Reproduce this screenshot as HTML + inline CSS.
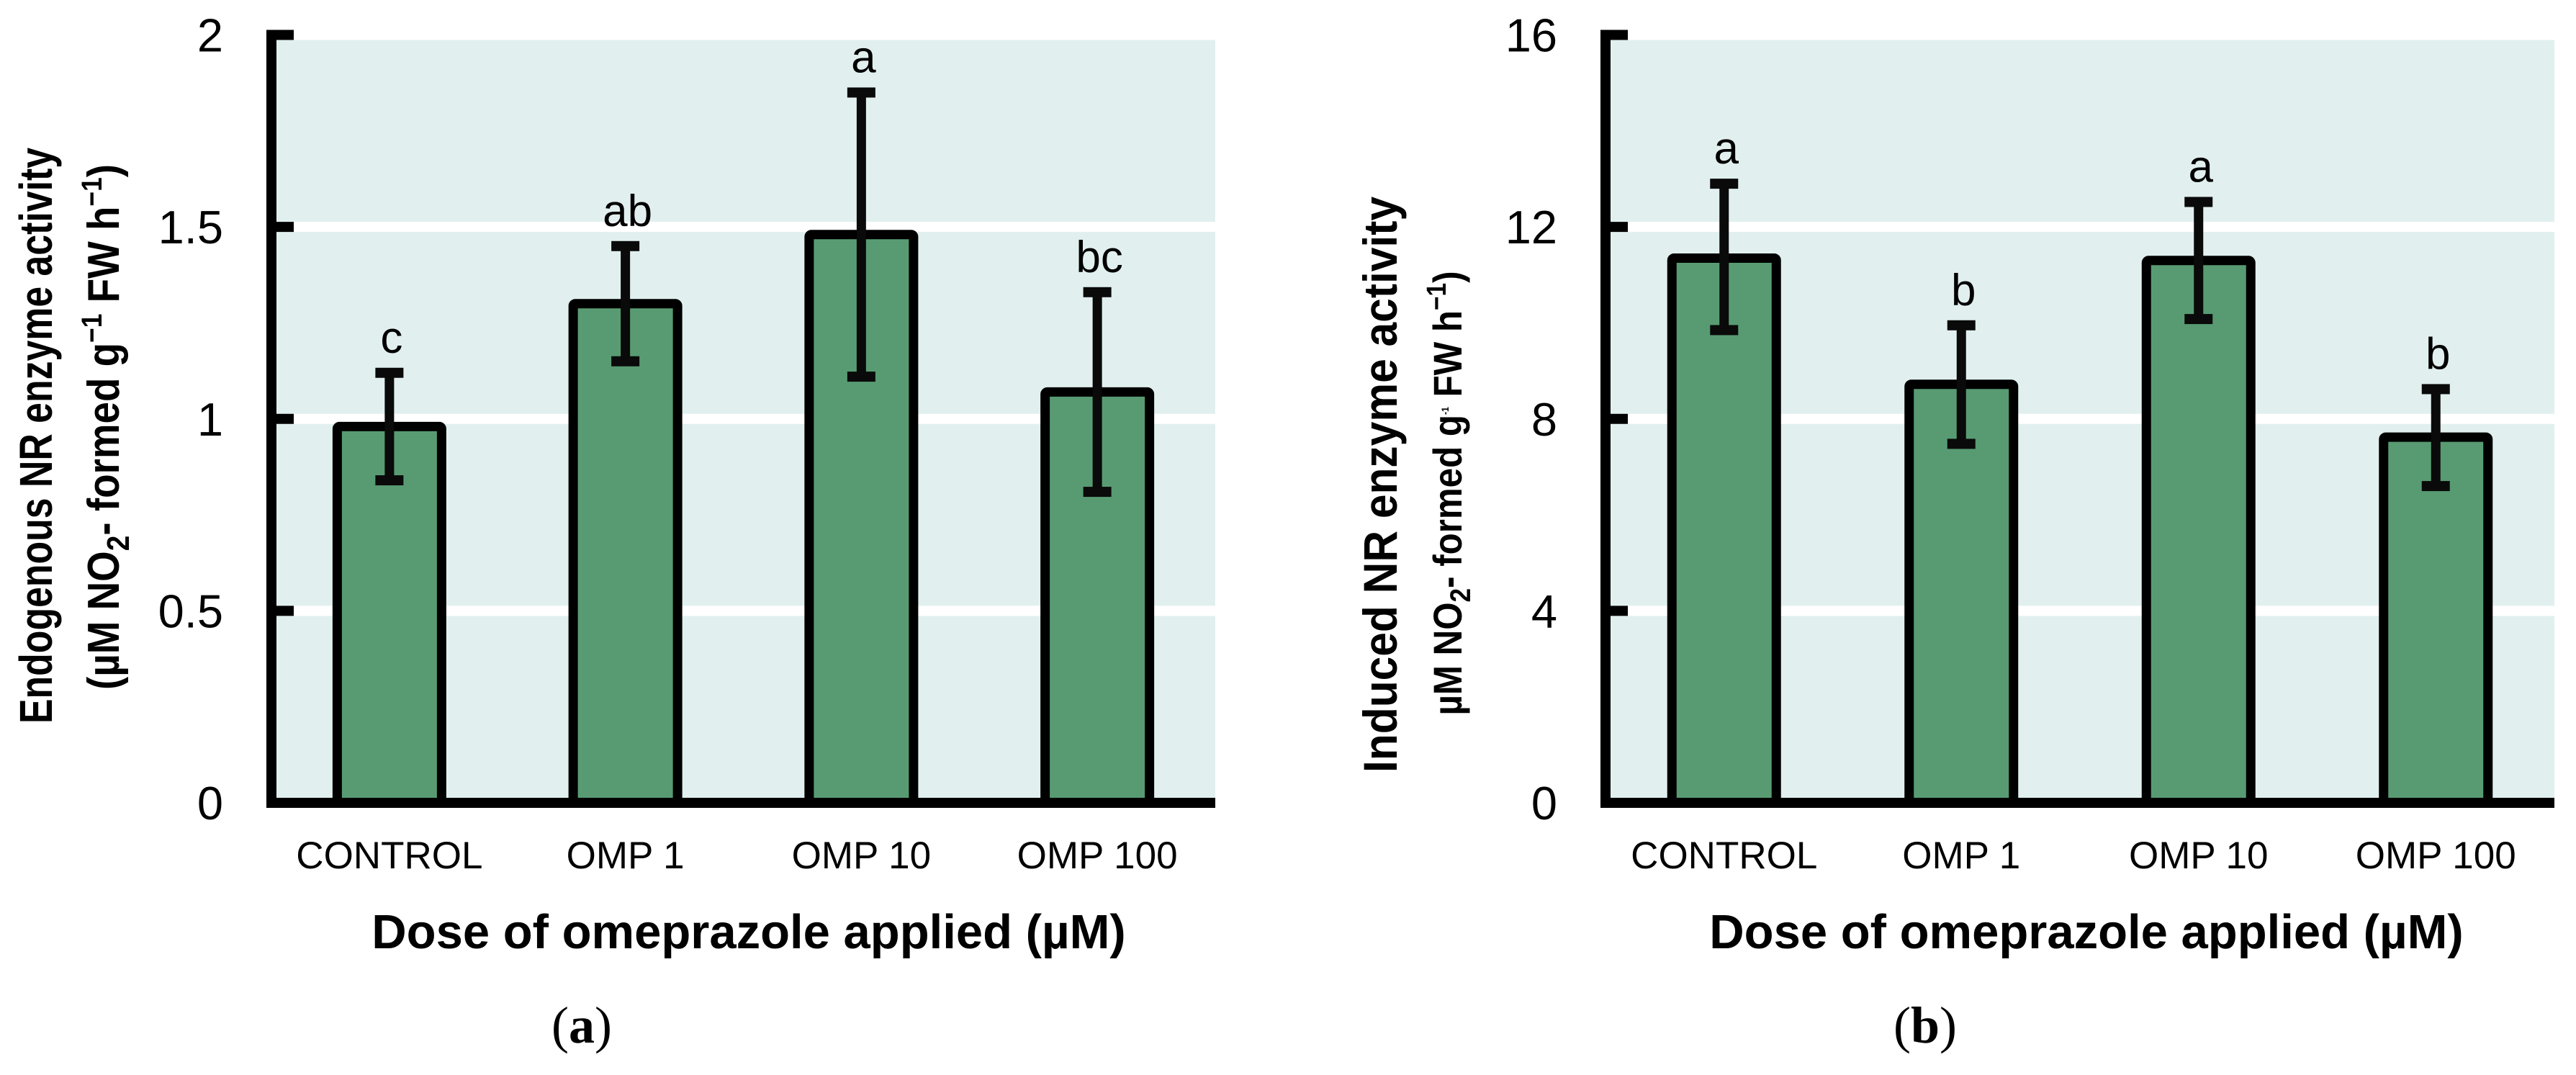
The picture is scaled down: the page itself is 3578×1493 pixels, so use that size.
<!DOCTYPE html>
<html><head><meta charset="utf-8"><style>
html,body{margin:0;padding:0;background:#fff;}
svg{display:block;font-family:"Liberation Sans",sans-serif;}
</style></head><body>
<svg id="fig" width="3578" height="1493" viewBox="0 0 3578 1493" xmlns="http://www.w3.org/2000/svg">
<g id="pa"></g>
<g id="pb"></g>

<text x="72" y="605" transform="rotate(-90 72 605)" text-anchor="middle" font-size="64" font-weight="bold" textLength="800" lengthAdjust="spacingAndGlyphs">Endogenous NR enzyme activity</text>
<text x="165" y="593" transform="rotate(-90 165 593)" text-anchor="middle" font-size="62" font-weight="bold" textLength="730" lengthAdjust="spacingAndGlyphs">(µM NO<tspan font-size="44" dy="14">2</tspan><tspan dy="-14">- formed g</tspan><tspan font-size="40" dy="-24">−1</tspan><tspan dy="24"> FW h</tspan><tspan font-size="40" dy="-24">−1</tspan><tspan dy="24">)</tspan></text>
<text x="1040" y="1317" text-anchor="middle" font-size="67" font-weight="bold">Dose of omeprazole applied (µM)</text>
<text x="808" y="1448" text-anchor="middle" font-size="72" font-family="Liberation Serif, serif">(<tspan font-weight="bold">a</tspan>)</text>

<text x="1940" y="673" transform="rotate(-90 1940 673)" text-anchor="middle" font-size="66" font-weight="bold" textLength="800" lengthAdjust="spacingAndGlyphs">Induced NR enzyme activity</text>
<text x="2030" y="685" transform="rotate(-90 2030 685)" text-anchor="middle" font-size="56" font-weight="bold" textLength="617" lengthAdjust="spacingAndGlyphs">µM NO<tspan font-size="40" dy="12">2</tspan><tspan dy="-12">- formed g</tspan><tspan font-size="14" dy="-18">-1</tspan><tspan dy="18"> FW h</tspan><tspan font-size="38" dy="-22">−1</tspan><tspan dy="22">)</tspan></text>
<text x="2898" y="1317" text-anchor="middle" font-size="67" font-weight="bold">Dose of omeprazole applied (µM)</text>
<text x="2674" y="1448" text-anchor="middle" font-size="72" font-family="Liberation Serif, serif">(<tspan font-weight="bold">b</tspan>)</text>
</svg>
<script>
const categories = ["CONTROL", "OMP 1", "OMP 10", "OMP 100"];
const aValues = [0.98, 1.30, 1.48, 1.07];
const aErrHigh = [1.12, 1.45, 1.85, 1.33];
const aErrLow = [0.84, 1.15, 1.11, 0.81];
const aLetters = ["c", "ab", "a", "bc"];
const aTicks = [0, 0.5, 1, 1.5, 2];
const aTickLabels = ["0", "0.5", "1", "1.5", "2"];
const bValues = [11.35, 8.72, 11.3, 7.62];
const bErrHigh = [12.9, 9.95, 12.52, 8.62];
const bErrLow = [9.85, 7.48, 10.08, 6.6];
const bLetters = ["a", "b", "a", "b"];
const bTicks = [0, 4, 8, 12, 16];
const bTickLabels = ["0", "4", "8", "12", "16"];

const NS = "http://www.w3.org/2000/svg";
function mk(parent, tag, attrs, txt) {
  const e = document.createElementNS(NS, tag);
  for (const k in attrs) e.setAttribute(k, attrs[k]);
  if (txt !== undefined) e.textContent = txt;
  parent.appendChild(e);
  return e;
}
function drawPanel(g, cfg) {
  const y0 = 1115, yTop = 48.5;
  const yScale = v => y0 - (v - cfg.min) / (cfg.max - cfg.min) * (y0 - yTop);
  const catW = (cfg.right - cfg.axisX) / categories.length;
  const xCenter = i => cfg.axisX + catW * (i + 0.5);
  for (let t = 0; t < cfg.ticks.length - 1; t++) {
    const yb = yScale(cfg.ticks[t]), yt = yScale(cfg.ticks[t + 1]);
    const top = yt + 7, bot = t === 0 ? y0 - 7 : yb - 7;
    const r = mk(g, "rect", {x: cfg.axisX + 7, y: top, width: cfg.right - cfg.axisX - 7, height: bot - top, fill: "#e1f0ef"});
    
    
  }
  cfg.ticks.forEach((v, i) => {
    const y = yScale(v);
    const tk = mk(g, "rect", {x: cfg.axisX, y: y - 7, width: 31, height: 14, fill: "#000"});
    
    
    const lb = mk(g, "text", {x: cfg.axisX - 67, y: y + 23, "text-anchor": "end", "font-size": 65}, cfg.tickLabels[i]);
    
    
  });
  categories.forEach((c, i) => {
    const cx = xCenter(i), yv = yScale(cfg.values[i]);
    const bar = mk(g, "rect", {x: cx - 72.5, y: yv, width: 145, height: y0 - yv, fill: "#589b73", stroke: "#000", "stroke-width": 13, rx: 3});
    
    
    const yh = yScale(cfg.hi[i]), yl = yScale(cfg.lo[i]);
    const eg = mk(g, "g", {});
    
    
    mk(eg, "rect", {x: cx - 6.5, y: yh, width: 13, height: yl - yh, fill: "#0a0a0a"});
    mk(eg, "rect", {x: cx - 19.5, y: yh - 7, width: 39, height: 14, fill: "#0a0a0a"});
    mk(eg, "rect", {x: cx - 19.5, y: yl - 7, width: 39, height: 14, fill: "#0a0a0a"});
    const lt = mk(g, "text", {x: cx + 3, y: yh - 28, "text-anchor": "middle", "font-size": 62}, cfg.letters[i]);
    
    
    const cl = mk(g, "text", {x: cx, y: 1206, "text-anchor": "middle", "font-size": 53}, c);
    
    
  });
  const ya = mk(g, "rect", {x: cfg.axisX - 7, y: yTop - 7, width: 14, height: y0 - yTop + 14, fill: "#000"});
  
  
  const xa = mk(g, "rect", {x: cfg.axisX - 1, y: y0 - 7, width: cfg.right - cfg.axisX + 1, height: 14, fill: "#000"});
  
  
}
drawPanel(document.getElementById("pa"), {axisX: 377, right: 1688, min: 0, max: 2, ticks: aTicks, tickLabels: aTickLabels, values: aValues, hi: aErrHigh, lo: aErrLow, letters: aLetters});
drawPanel(document.getElementById("pb"), {axisX: 2230, right: 3548, min: 0, max: 16, ticks: bTicks, tickLabels: bTickLabels, values: bValues, hi: bErrHigh, lo: bErrLow, letters: bLetters});
</script>
</body></html>
